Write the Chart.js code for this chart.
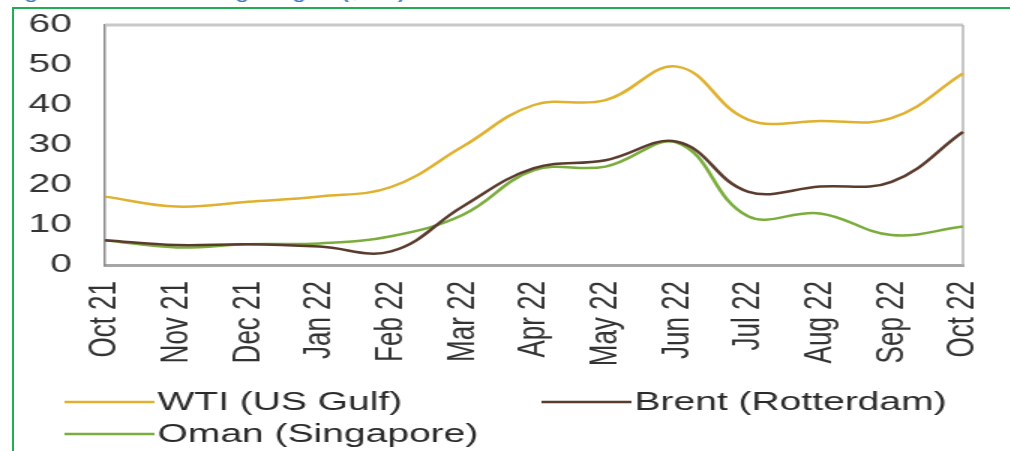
<!DOCTYPE html>
<html>
<head>
<meta charset="utf-8">
<script src="https://cdn.jsdelivr.net/npm/chart.js@4/dist/chart.umd.min.js"></script>
<style>
  html, body { margin: 0; padding: 0; background: #fff; overflow: hidden; }
  body { width: 1010px; height: 451px; position: relative; }
  /* the exported figure is stretched sideways, so the whole chart is drawn narrow and widened */
  #wrap {
    position: absolute; left: 0; top: 0;
    width: 673px; height: 451px;
    transform: scale(1.5, 1); transform-origin: 0 0;
  }
  #frame {
    position: absolute; left: 12px; top: 7px;
    width: 1100px; height: 500px;
    border: 2px solid #22ad55;
    pointer-events: none;
  }
</style>
</head>
<body>
<div id="wrap"><canvas id="marginChart" width="673" height="451"></canvas></div>
<div id="frame"></div>
<script>
// Monthly refining margins, $/bbl
const months = ['Oct 21', 'Nov 21', 'Dec 21', 'Jan 22', 'Feb 22', 'Mar 22', 'Apr 22',
                'May 22', 'Jun 22', 'Jul 22', 'Aug 22', 'Sep 22', 'Oct 22'];
const wtiUsGulf      = [17.1, 14.6, 15.8, 17.1, 19.5, 29.6, 40.0, 41.2, 49.6, 36.3, 36.0, 36.7, 47.9];
const brentRotterdam = [6.2, 5.0, 5.2, 4.6, 3.4, 14.6, 24.2, 26.2, 30.8, 18.3, 19.6, 20.8, 33.3];
const omanSingapore  = [6.2, 4.4, 5.2, 5.4, 7.2, 12.5, 23.7, 24.6, 30.6, 12.1, 12.9, 7.5, 9.6];
const yMin = 0, yMax = 60, yStep = 10;

const titleText = 'Figure 3: Global refining margins ($/bbl)';
const labelFont = '"Liberation Sans", Arial, sans-serif';

// title sits mostly above the canvas, only its lower edge shows
const titlePlugin = {
  id: 'topTitle',
  afterDraw(chart) {
    const ctx = chart.ctx;
    ctx.save();
    ctx.fillStyle = '#3a78c3';
    ctx.font = 'bold 14px ' + labelFont;
    ctx.textBaseline = 'alphabetic';
    ctx.fillText(titleText, 4, -1);
    ctx.restore();
  }
};

// grey box around the plot (top and right edges; left/bottom come from the axes)
const boxPlugin = {
  id: 'plotBox',
  beforeDatasetsDraw(chart) {
    const { ctx, chartArea: a } = chart;
    ctx.save();
    ctx.strokeStyle = '#c8c8c8';
    ctx.lineWidth = 3;
    ctx.beginPath();
    ctx.moveTo(a.left, a.top);
    ctx.lineTo(a.right, a.top);
    ctx.stroke();
    ctx.strokeStyle = '#b4b4b4';
    ctx.lineWidth = 1.5;
    ctx.beginPath();
    ctx.moveTo(a.right, a.top);
    ctx.lineTo(a.right, a.bottom);
    ctx.stroke();
    ctx.restore();
  }
};

// legend laid out in two rows under the month labels
const legendPlugin = {
  id: 'rowLegend',
  afterDraw(chart) {
    const ctx = chart.ctx;
    const slots = [
      { x: 43, y: 402 },
      { x: 361, y: 402 },
      { x: 43, y: 434 }
    ];
    ctx.save();
    ctx.font = '26px ' + labelFont;
    ctx.textBaseline = 'middle';
    chart.data.datasets.forEach((ds, i) => {
      const s = slots[i];
      ctx.strokeStyle = ds.borderColor;
      ctx.lineWidth = 2.5;
      ctx.beginPath();
      ctx.moveTo(s.x, s.y);
      ctx.lineTo(s.x + 60, s.y);
      ctx.stroke();
      ctx.fillStyle = '#2a2a2a';
      ctx.fillText(ds.label, s.x + 62, s.y + 1);
    });
    ctx.restore();
  }
};

const canvas = document.getElementById('marginChart');
new Chart(canvas, {
  type: 'line',
  data: {
    labels: months,
    datasets: [{
      label: 'WTI (US Gulf)',
      data: wtiUsGulf,
      borderColor: '#dfb12e'
    }, {
      label: 'Brent (Rotterdam)',
      data: brentRotterdam,
      borderColor: '#5a3b2e'
    }, {
      label: 'Oman (Singapore)',
      data: omanSingapore,
      borderColor: '#7aad3c'
    }]
  },
  options: {
    responsive: false,
    animation: false,
    devicePixelRatio: 1,
    layout: { padding: { top: 25, right: 31, left: 0, bottom: 0 } },
    elements: {
      line: { borderWidth: 2.5, tension: 0.4, fill: false },
      point: { radius: 0 }
    },
    plugins: {
      legend: { display: false },
      tooltip: { enabled: false }
    },
    scales: {
      x: {
        grid: { display: false, drawTicks: false },
        border: { display: true, color: '#a6a6a6', width: 3 },
        offset: false,
        ticks: {
          color: '#333',
          font: { size: 26, family: labelFont },
          minRotation: 90,
          maxRotation: 90,
          padding: 16,
          autoSkip: false
        },
        afterFit(scale) {
          scale.height = 186;
          scale.paddingLeft = 0;
          scale.paddingRight = 0;
        }
      },
      y: {
        min: yMin,
        max: yMax,
        grid: { display: false, drawTicks: false },
        border: { display: true, color: '#8c8c8c', width: 1.5 },
        ticks: {
          stepSize: yStep,
          color: '#333',
          font: { size: 26, family: labelFont },
          padding: 22
        },
        afterFit(scale) {
          scale.width = 70;
          scale.paddingTop = 0;
          scale.paddingBottom = 0;
        }
      }
    }
  },
  plugins: [boxPlugin, legendPlugin, titlePlugin]
});
</script>
</body>
</html>
